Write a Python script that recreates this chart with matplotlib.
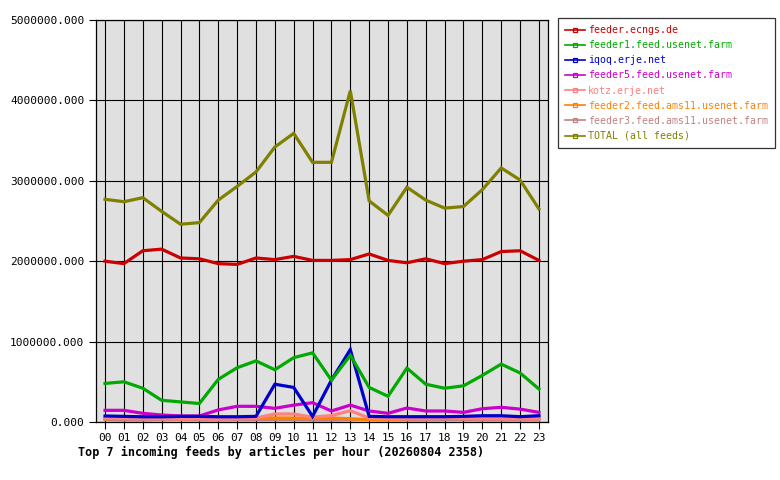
import matplotlib
matplotlib.use("Agg")
import matplotlib.pyplot as plt
from matplotlib.ticker import FormatStrFormatter

hours = [f"{h:02d}" for h in range(24)]

feeder_ecngs = [2.00, 1.97, 2.13, 2.15, 2.04, 2.03, 1.97, 1.96, 2.04, 2.02, 2.06, 2.01,
                2.01, 2.02, 2.09, 2.01, 1.98, 2.03, 1.97, 2.00, 2.02, 2.12, 2.13, 2.01]
feeder1_usenet = [0.48, 0.50, 0.42, 0.27, 0.25, 0.23, 0.53, 0.675, 0.76, 0.65, 0.80, 0.86,
                  0.52, 0.83, 0.43, 0.32, 0.67, 0.47, 0.42, 0.45, 0.58, 0.72, 0.61, 0.41]
iqoq_erje = [0.075, 0.07, 0.065, 0.065, 0.07, 0.07, 0.065, 0.065, 0.07, 0.47, 0.43, 0.07,
             0.52, 0.90, 0.07, 0.066, 0.066, 0.066, 0.066, 0.07, 0.078, 0.078, 0.066, 0.078]
feeder5_usenet = [0.145, 0.145, 0.108, 0.087, 0.075, 0.075, 0.15, 0.195, 0.195, 0.17, 0.21, 0.24,
                  0.137, 0.21, 0.137, 0.108, 0.174, 0.137, 0.137, 0.12, 0.165, 0.183, 0.16, 0.12]
kotz_erje = [0.05, 0.045, 0.04, 0.04, 0.035, 0.04, 0.035, 0.04, 0.05, 0.10, 0.10, 0.06,
             0.08, 0.14, 0.05, 0.04, 0.04, 0.04, 0.05, 0.045, 0.04, 0.04, 0.04, 0.04]
feeder2_ams11 = [0.04, 0.05, 0.055, 0.06, 0.06, 0.065, 0.065, 0.06, 0.055, 0.05, 0.05, 0.045,
                 0.05, 0.04, 0.03, 0.025, 0.04, 0.05, 0.05, 0.045, 0.05, 0.06, 0.045, 0.045]
feeder3_ams11 = [0.03, 0.025, 0.025, 0.03, 0.03, 0.025, 0.025, 0.03, 0.03, 0.03, 0.03, 0.025,
                 0.025, 0.03, 0.03, 0.03, 0.025, 0.025, 0.03, 0.03, 0.025, 0.025, 0.025, 0.025]
total_all = [2.77, 2.74, 2.79, 2.62, 2.46, 2.48, 2.76, 2.93, 3.11, 3.42, 3.59, 3.23,
             3.23, 4.12, 2.75, 2.57, 2.92, 2.76, 2.66, 2.68, 2.89, 3.16, 3.01, 2.65]

series_names = ["feeder.ecngs.de", "feeder1.feed.usenet.farm", "iqoq.erje.net",
                "feeder5.feed.usenet.farm", "kotz.erje.net",
                "feeder2.feed.ams11.usenet.farm", "feeder3.feed.ams11.usenet.farm",
                "TOTAL (all feeds)"]
series_values = [feeder_ecngs, feeder1_usenet, iqoq_erje, feeder5_usenet, kotz_erje,
                 feeder2_ams11, feeder3_ams11, total_all]
colors = ["#cc0000", "#00aa00", "#0000cc", "#cc00cc", "#ff8080", "#ff8000", "#c08080", "#808000"]

# draw order: small feeds first so the big ones sit on top like the original
draw_order = [6, 5, 4, 3, 2, 1, 0, 7]

plt.rcParams["font.family"] = ["DejaVu Sans Mono"]

W, H = 780, 480
fig = plt.figure(figsize=(W / 100, H / 100), dpi=100)
ax = fig.add_axes([96 / W, (H - 422) / H, (548 - 96) / W, (422 - 20) / H])
ax.set_facecolor("#e0e0e0")

x = list(range(len(hours)))
for i in draw_order:
    vals = [v * 1e6 for v in series_values[i]]
    ax.plot(x, vals, color=colors[i], lw=2.3, solid_joinstyle="miter", zorder=3)

ax.set_xlim(-0.48, 23.48)
ax.set_ylim(0, 5e6)
ax.set_xticks(x)
ax.set_xticklabels(hours)
ax.set_yticks([0, 1e6, 2e6, 3e6, 4e6, 5e6])
ax.yaxis.set_major_formatter(FormatStrFormatter("%.3f"))
ax.grid(True, color="black", lw=0.8, zorder=1)
ax.set_axisbelow(True)
ax.tick_params(axis="both", colors="black", labelsize=8, length=5, width=0.8, direction="out")
ax.tick_params(axis="x", pad=3)
for s in ax.spines.values():
    s.set_color("black")
    s.set_linewidth(0.9)

handles = [plt.Line2D([], [], color=c, lw=1.2, marker="s", markersize=3.2,
                      markerfacecolor="none", markeredgecolor=c, markeredgewidth=0.9)
           for c in colors]
leg = fig.legend(handles, series_names, loc="upper left",
                 bbox_to_anchor=(558 / W, 1 - 18 / H), bbox_transform=fig.transFigure,
                 fontsize=7.1, frameon=True, fancybox=False, handlelength=2.0,
                 handletextpad=0.3, borderpad=0.72, labelspacing=0.52, borderaxespad=0)
leg.get_frame().set_edgecolor("black")
leg.get_frame().set_linewidth(0.9)
for txt, c in zip(leg.get_texts(), colors):
    txt.set_color(c)

fig.text(78 / W, 1 - 452 / H, "Top 7 incoming feeds by articles per hour (20260804 2358)",
         ha="left", va="center", fontsize=8.5, fontweight="bold")

fig.savefig("out.png", dpi=100)
